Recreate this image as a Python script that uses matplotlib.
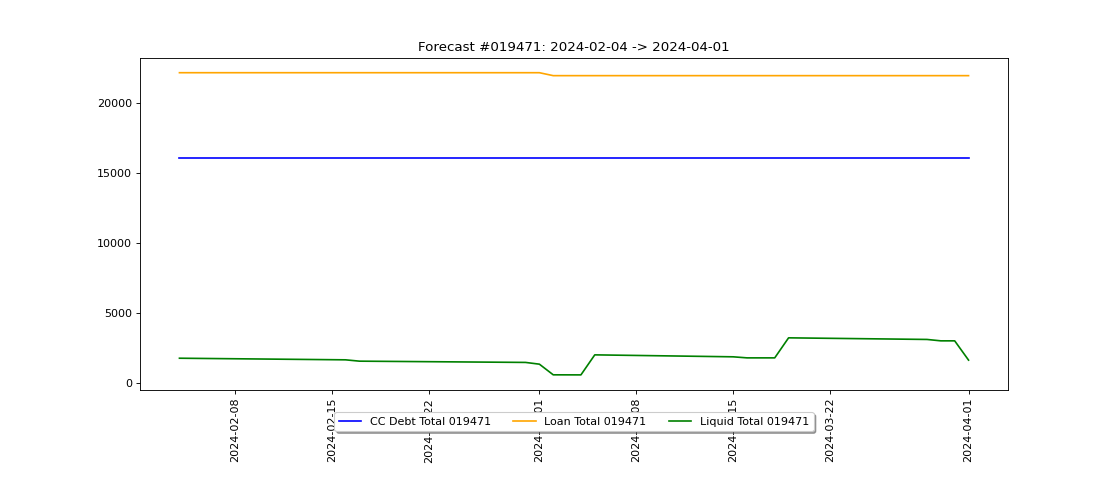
"""Forecast chart for account 019471: CC debt, loan and liquid totals."""

import matplotlib

matplotlib.use("Agg")
import matplotlib.pyplot as plt
import pandas as pd

forecast_id = "019471"
start_label = "2024-02-04"
end_label = "2024-04-01"

cc_dates = ["2024-02-04", "2024-04-01"]
cc_values = [16090, 16090]

loan_dates = ["2024-02-04", "2024-03-01", "2024-03-02", "2024-04-01"]
loan_values = [22160, 22160, 21950, 21950]

liquid_dates = [
    "2024-02-04", "2024-02-16", "2024-02-17", "2024-02-29", "2024-03-01",
    "2024-03-02", "2024-03-04", "2024-03-05", "2024-03-15", "2024-03-16",
    "2024-03-18", "2024-03-19", "2024-03-29", "2024-03-30", "2024-03-31",
    "2024-04-01",
]
liquid_values = [
    1780, 1665, 1570, 1480, 1355,
    595, 590, 2020, 1880, 1805,
    1805, 3235, 3120, 3020, 3020,
    1645,
]

# Rendered at 80 dpi on a 14x6 inch canvas -> 1120x480 px.
fig, ax = plt.subplots(figsize=(14, 6), dpi=80)
ax.plot(pd.to_datetime(cc_dates), cc_values, color="blue",
        label=f"CC Debt Total {forecast_id}")
ax.plot(pd.to_datetime(loan_dates), loan_values, color="orange",
        label=f"Loan Total {forecast_id}")
ax.plot(pd.to_datetime(liquid_dates), liquid_values, color="green",
        label=f"Liquid Total {forecast_id}")

ax.set_title(f"Forecast #{forecast_id}: {start_label} -> {end_label}")
plt.setp(ax.get_xticklabels(), rotation=90)
ax.legend(loc="upper center", bbox_to_anchor=(0.5, -0.05), shadow=True, ncol=3)
fig.subplots_adjust(bottom=0.1875)
fig.savefig("out.png", dpi=80)
